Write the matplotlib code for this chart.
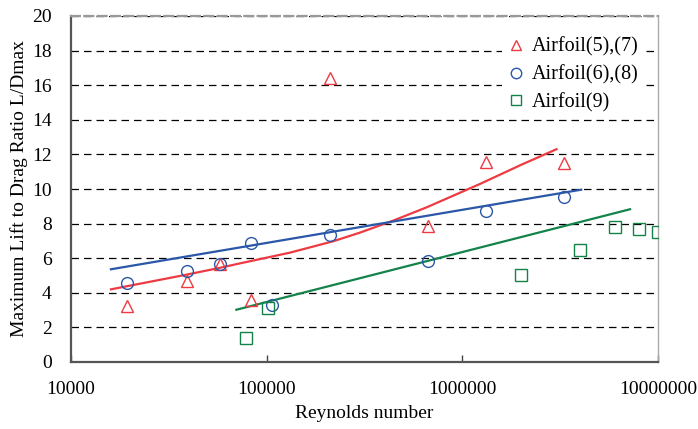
import numpy as np
import matplotlib
matplotlib.use("Agg")
import matplotlib.pyplot as plt
from matplotlib.lines import Line2D

plt.rcParams["font.family"] = ["Liberation Serif", "DejaVu Serif"]

# Measured maximum L/D against Reynolds number
re_57 = [19400, 39100, 57700, 83100, 211000, 665000, 1320000, 3290000]
ld_57 = [3.26, 4.68, 5.68, 3.56, 16.42, 7.88, 11.58, 11.52]

re_68 = [19400, 39100, 57700, 83100, 106000, 211000, 665000, 1320000, 3290000]
ld_68 = [4.58, 5.28, 5.68, 6.88, 3.28, 7.32, 5.86, 8.71, 9.54]

re_9 = [78700, 101600, 2000000, 4000000, 6000000, 8000000, 10000000]
ld_9 = [1.39, 3.10, 5.03, 6.47, 7.79, 7.67, 7.50]

# Trend lines (the red one is a power-type curve, the others straight on log x)
trend_57_re = [16000, 39000, 58000, 73000, 131500, 219000, 300000, 443000,
               657000, 1230000, 2000000, 3030000]
trend_57_ld = [4.20, 5.05, 5.45, 5.70, 6.32, 6.98, 7.48, 8.17,
               8.94, 10.29, 11.40, 12.30]
trend_68_re = [16000, 4050000]
trend_68_ld = [5.36, 9.96]
trend_9_re = [70000, 7200000]
trend_9_ld = [3.02, 8.83]

labels = ["Airfoil(5),(7)", "Airfoil(6),(8)", "Airfoil(9)"]
y_ticks = list(range(0, 21, 2))
x_ticks = [10000, 100000, 1000000, 10000000]

RED = "#ee3a42"
BLUE = "#2b57a8"
GREEN = "#14834a"

fig = plt.figure(figsize=(6.98, 4.29), dpi=100)
ax = fig.add_axes([71 / 698, 1 - 362 / 429, 587 / 698, 346 / 429])

ax.plot(trend_57_re, trend_57_ld, color=RED, lw=1.6, zorder=3)
ax.plot(trend_68_re, trend_68_ld, color=BLUE, lw=1.6, zorder=3)
ax.plot(trend_9_re, trend_9_ld, color=GREEN, lw=1.6, zorder=3)

mk = dict(linestyle="none", markerfacecolor="none", markeredgewidth=1.0, markersize=8.5)
ax.plot(re_57, ld_57, marker="^", markeredgecolor=RED, zorder=4, **mk)
ax.plot(re_68, ld_68, marker="o", markeredgecolor=BLUE, zorder=4, **mk)
ax.plot(re_9, ld_9, marker="s", markeredgecolor=GREEN, zorder=4, **mk)

ax.set_xscale("log")
ax.set_xlim(10000, 10000000)
ax.set_ylim(0, 20)
ax.set_xticks(x_ticks)
ax.set_xticklabels([str(v) for v in x_ticks])
ax.xaxis.set_minor_locator(matplotlib.ticker.NullLocator())
ax.set_yticks(y_ticks)
ax.set_yticklabels([str(v) for v in y_ticks])

ax.tick_params(axis="x", direction="in", length=5, width=1, color="#444444",
               labelsize=14, pad=14)
ax.tick_params(axis="y", length=0, labelsize=14, pad=14)

ax.yaxis.grid(True, linestyle=(0, (6, 4)), color="black", lw=0.9)
ax.set_axisbelow(True)

ax.spines["left"].set_color("#555555")
ax.spines["left"].set_linewidth(1.6)
ax.spines["bottom"].set_color("#555555")
ax.spines["bottom"].set_linewidth(1.6)
ax.spines["right"].set_color("#aaaaaa")
ax.spines["right"].set_linewidth(1.0)
ax.spines["top"].set_color("#999999")
ax.spines["top"].set_linewidth(1.6)
ax.spines["top"].set_linestyle((0, (4, 2)))

ax.set_xlabel("Reynolds number", fontsize=14, labelpad=5)
ax.set_ylabel("Maximum Lift to Drag Ratio L/Dmax", fontsize=14, labelpad=3)

handles = []
for m, c in zip(["^", "o", "s"], [RED, BLUE, GREEN]):
    handles.append(Line2D([], [], marker=m, markeredgecolor=c, linestyle="none",
                          markerfacecolor="none", markeredgewidth=1.0, markersize=7.5))
leg = ax.legend(handles, labels, loc="upper right", bbox_to_anchor=(0.995, 0.985),
                fontsize=14.5, frameon=True, framealpha=1, edgecolor="none",
                handlelength=0.8, handletextpad=0.4, labelspacing=0.42,
                borderpad=0.3, fancybox=False)
leg.set_zorder(5)

fig.savefig("out.png", dpi=100)
